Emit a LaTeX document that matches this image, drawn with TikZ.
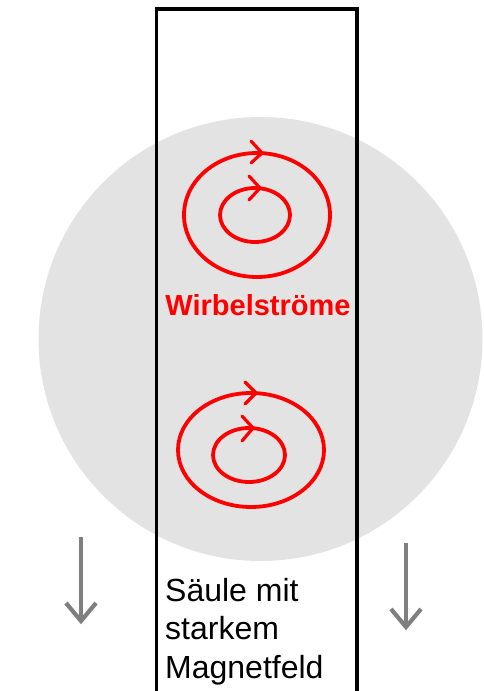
\documentclass[tikz,border=0pt]{standalone}
\usepackage{fontspec}
\setmainfont{Liberation Sans}
\usetikzlibrary{calc}
\begin{document}
\begin{tikzpicture}[x=1pt,y=-1pt,
  disk/.style={fill=diskgray,draw=none},
  eddy/.style={draw=red,line width=3.8pt},
  chev/.style={draw=red,line width=3.2pt,line cap=round,line join=round},
  fall/.style={draw=arrowgray,line width=4.2pt,line join=miter},
  pillar/.style={draw=black,line width=3.2pt},
  lbl/.style={inner sep=0pt,font=\fontsize{32}{38.5}\selectfont,align=left,text=black},
  redlbl/.style={inner sep=0pt,font=\fontsize{29}{34}\selectfont\bfseries,text=red}]
\definecolor{diskgray}{HTML}{E3E3E3}
\definecolor{arrowgray}{HTML}{7F7F7F}
\useasboundingbox (0,0) rectangle (483,691);
\fill[white] (0,0) rectangle (483,691);
\begin{scope}
\clip (0,0) rectangle (483,691);
% gray disk
\path[disk] (260.5,339) circle[radius=222];
% upper eddy currents
\draw[eddy] (257,215) ellipse[x radius=73,y radius=62];
\draw[eddy] (255,215) ellipse[x radius=35,y radius=27];
\draw[chev] (251,141) -- (262,153) -- (251,163);
\draw[chev] (249,176) -- (260,188) -- (249,200);
% lower eddy currents
\draw[eddy] (251,450) ellipse[x radius=73,y radius=57];
\draw[eddy] (249,455) ellipse[x radius=36,y radius=27];
\draw[chev] (245,382) -- (256,393) -- (245,404);
\draw[chev] (242,416) -- (253,428) -- (242,441);
% pillar
\draw[pillar] (156.5,700) -- (156.5,9) -- (357,9) -- (357,700);
\end{scope}
% labels
\node[redlbl,anchor=base] (wirbel) at (258,315) {Wirbelströme};
\node[lbl,anchor=north west] (saeule) at (165,578) {Säule mit\\starkem\\Magnetfeld};
% falling arrows
\coordinate (la0) at (81,537);
\coordinate (la1) at (81,621);
\coordinate (ra0) at (406,543);
\coordinate (ra1) at (406,627);
\draw[fall] (la0) -- (la1);
\draw[fall] ($(la1)+(-15,-18)$) -- (la1) -- ($(la1)+(15,-18)$);
\draw[fall] (ra0) -- (ra1);
\draw[fall] ($(ra1)+(-15,-18)$) -- (ra1) -- ($(ra1)+(15,-18)$);
\end{tikzpicture}
\end{document}
